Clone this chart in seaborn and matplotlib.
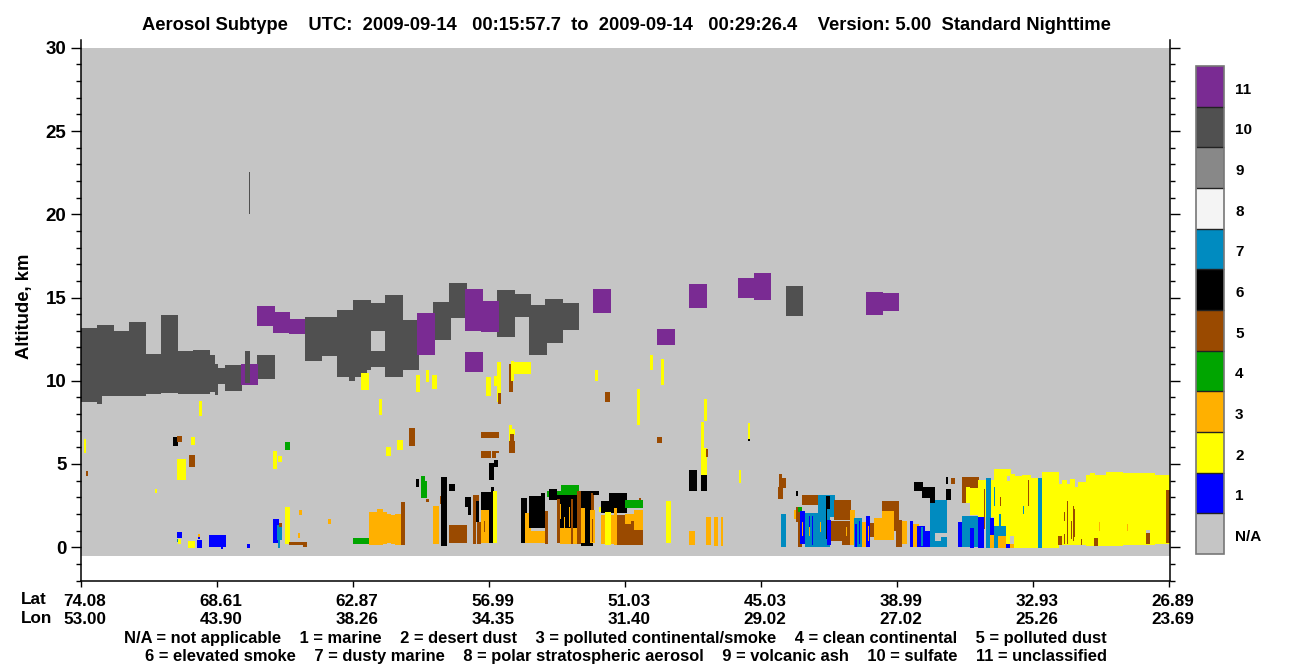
import matplotlib
matplotlib.use("Agg")
import matplotlib.pyplot as plt
import numpy as np
import pandas as pd
import seaborn as sns
from matplotlib.colors import ListedColormap
from matplotlib.ticker import FixedLocator
from matplotlib.transforms import ScaledTranslation

NA, MARINE, DESERT, POLLUTED, CLEAN, P_DUST, SMOKE, D_MARINE, PSA, ASH, SULFATE, UNCLASS = range(12)

SUBTYPE_COLORS = ["#C5C5C5", "#0000FF", "#FFFF00", "#FFB000", "#00A500", "#9A4A00",
                  "#000000", "#008BC0", "#F4F4F4", "#888888", "#505050", "#7A2B93"]
SUBTYPE_LABELS = ["N/A", "1", "2", "3", "4", "5", "6", "7", "8", "9", "10", "11"]

LAT_LABELS = ["74.08", "68.61", "62.87", "56.99", "51.03", "45.03", "38.99", "32.93", "26.89"]
LON_LABELS = ["53.00", "43.90", "38.26", "34.35", "31.40", "29.02", "27.02", "25.26", "23.69"]

N_PROFILES = 1089
ROW_KM = 0.06
GROUND_KM = -0.5
TOP_KM = 30.0

# every block: subtype, first profile, last profile, bottom km, top km (later blocks overpaint)
sulfate_layer = [
    (SULFATE, 0, 16, 8.8, 13.2), (SULFATE, 16, 33, 9.15, 13.4), (SULFATE, 16, 21, 8.7, 9.2),
    (SULFATE, 33, 48, 9.15, 13.05), (SULFATE, 48, 65, 9.15, 13.6), (SULFATE, 65, 80, 9.27, 11.65),
    (SULFATE, 80, 97, 9.33, 14.0), (SULFATE, 97, 112, 9.27, 11.85), (SULFATE, 112, 129, 9.27, 11.9),
    (SULFATE, 129, 134, 9.4, 11.6), (SULFATE, 134, 137, 9.2, 11.06), (SULFATE, 137, 144, 9.87, 10.8),
    (SULFATE, 144, 161, 9.45, 11.0), (SULFATE, 176, 194, 10.17, 11.6), (SULFATE, 224, 241, 11.24, 13.87),
    (SULFATE, 241, 256, 11.54, 13.87), (SULFATE, 256, 272, 10.29, 14.3), (SULFATE, 268, 274, 10.05, 10.4),
    (SULFATE, 272, 286, 10.29, 14.9), (SULFATE, 286, 290, 10.7, 14.9), (SULFATE, 290, 304, 13.04, 14.7),
    (SULFATE, 290, 304, 10.9, 11.85), (SULFATE, 304, 322, 10.29, 15.2), (SULFATE, 322, 338, 10.7, 13.7),
    (SULFATE, 352, 370, 12.5, 14.77), (SULFATE, 368, 386, 13.8, 15.9), (SULFATE, 416, 434, 12.68, 15.5),
    (SULFATE, 434, 450, 13.87, 15.25), (SULFATE, 448, 466, 11.6, 14.6), (SULFATE, 464, 482, 12.3, 14.95),
    (SULFATE, 482, 498, 13.1, 14.7), (SULFATE, 705, 722, 13.93, 15.73),
]

unclassified_layer = [
    (UNCLASS, 160, 177, 9.8, 11.06), (SULFATE, 164, 169, 9.93, 11.85), (SULFATE, 168, 169, 20.0, 22.55),
    (UNCLASS, 176, 194, 13.34, 14.53), (UNCLASS, 192, 209, 12.92, 14.17), (UNCLASS, 208, 224, 12.86, 13.76),
    (UNCLASS, 336, 354, 11.6, 14.1), (UNCLASS, 384, 402, 13.04, 15.55), (UNCLASS, 400, 418, 12.98, 14.83),
    (UNCLASS, 384, 402, 10.6, 11.8), (UNCLASS, 512, 530, 14.1, 15.55), (UNCLASS, 576, 594, 12.2, 13.16),
    (UNCLASS, 608, 626, 14.4, 15.85), (UNCLASS, 657, 673, 15.0, 16.2), (UNCLASS, 673, 690, 14.9, 16.5),
    (UNCLASS, 785, 802, 13.99, 15.37), (UNCLASS, 802, 818, 14.23, 15.31),
]

upper_features = [
    (DESERT, 3, 5, 5.74, 6.58), (P_DUST, 5, 7, 4.37, 4.66), (DESERT, 118, 121, 7.95, 8.85),
    (DESERT, 110, 114, 6.22, 6.7), (SMOKE, 92, 97, 6.16, 6.7), (P_DUST, 96, 101, 6.4, 6.76),
    (DESERT, 96, 105, 4.13, 5.38), (P_DUST, 108, 114, 4.9, 5.62), (DESERT, 192, 196, 4.78, 5.86),
    (DESERT, 197, 201, 5.2, 5.56), (CLEAN, 204, 209, 5.92, 6.4), (DESERT, 74, 76, 3.35, 3.6),
    (DESERT, 280, 288, 9.5, 10.5), (DESERT, 298, 301, 8.0, 9.0), (DESERT, 335, 339, 9.4, 10.4),
    (DESERT, 345, 348, 10.0, 10.7), (DESERT, 351, 356, 9.57, 10.4), (P_DUST, 328, 334, 6.16, 7.24),
    (DESERT, 316, 322, 5.92, 6.5), (DESERT, 305, 310, 5.56, 6.1), (DESERT, 405, 410, 9.15, 10.3),
    (DESERT, 413, 420, 9.75, 10.35), (DESERT, 416, 420, 8.8, 11.2), (P_DUST, 417, 420, 8.67, 9.33),
    (P_DUST, 428, 432, 9.4, 11.06), (DESERT, 430, 450, 10.47, 11.2), (DESERT, 430, 433, 10.05, 11.24),
    (DESERT, 514, 517, 10.05, 10.7), (P_DUST, 524, 529, 8.8, 9.4), (DESERT, 556, 559, 7.4, 9.57),
    (P_DUST, 576, 581, 6.34, 6.7), (DESERT, 569, 572, 10.7, 11.6), (DESERT, 580, 583, 9.8, 11.36),
    (DESERT, 623, 626, 7.66, 8.97), (DESERT, 620, 623, 4.43, 7.6), (DESERT, 620, 626, 4.43, 6.04),
    (P_DUST, 625, 627, 5.5, 5.98), (DESERT, 667, 669, 6.58, 7.54), (SMOKE, 667, 669, 6.46, 6.58),
    (P_DUST, 400, 418, 6.64, 7.0), (P_DUST, 400, 410, 5.44, 5.86), (P_DUST, 411, 415, 5.44, 5.86),
    (P_DUST, 411, 418, 5.74, 5.86), (DESERT, 428, 431, 6.16, 7.4), (DESERT, 431, 434, 6.82, 7.18),
    (P_DUST, 429, 433, 5.74, 6.88), (P_DUST, 428, 434, 5.74, 6.46), (SMOKE, 408, 413, 4.13, 5.14),
    (SMOKE, 413, 417, 4.9, 5.3),
]

lower_west = [
    (MARINE, 96, 101, 0.66, 1.0), (D_MARINE, 96, 97, 0.42, 0.6), (DESERT, 97, 100, 0.3, 0.6),
    (DESERT, 107, 114, 0.06, 0.48), (POLLUTED, 117, 119, 0.72, 0.9), (MARINE, 117, 119, 0.6, 0.72),
    (MARINE, 116, 121, 0.06, 0.54), (MARINE, 128, 145, 0.12, 0.84), (MARINE, 140, 142, 0.0, 0.2),
    (MARINE, 166, 169, 0.06, 0.3), (MARINE, 192, 198, 0.36, 1.8), (D_MARINE, 196, 201, 0.54, 1.44),
    (D_MARINE, 197, 199, 0.06, 0.54), (P_DUST, 198, 201, 1.32, 1.55), (DESERT, 204, 209, 0.3, 2.5),
    (POLLUTED, 218, 221, 2.03, 2.33), (POLLUTED, 217, 219, 0.66, 0.96), (POLLUTED, 247, 250, 1.5, 1.8),
    (P_DUST, 208, 226, 0.24, 0.42), (P_DUST, 222, 226, 0.12, 0.42), (CLEAN, 272, 288, 0.3, 0.66),
    (POLLUTED, 288, 296, 0.24, 2.2), (POLLUTED, 296, 302, 0.24, 2.4), (POLLUTED, 302, 306, 0.3, 2.2),
    (POLLUTED, 306, 310, 0.36, 2.1), (POLLUTED, 310, 314, 0.3, 2.03), (POLLUTED, 314, 320, 0.24, 2.1),
    (P_DUST, 320, 324, 0.24, 2.8), (SMOKE, 335, 338, 3.7, 4.2), (CLEAN, 340, 344, 3.05, 4.37),
    (CLEAN, 344, 346, 3.05, 4.05), (P_DUST, 345, 348, 2.8, 3.0),
]

lower_central = [
    (POLLUTED, 352, 358, 0.3, 2.57), (P_DUST, 359, 361, 2.7, 3.17), (SMOKE, 360, 366, 0.18, 4.3),
    (SMOKE, 368, 374, 3.47, 3.9), (P_DUST, 368, 386, 0.36, 1.44), (SMOKE, 384, 390, 2.5, 3.1),
    (SMOKE, 387, 390, 2.03, 2.5), (P_DUST, 392, 398, 2.87, 3.23), (P_DUST, 392, 395, 0.3, 2.87),
    (SMOKE, 395, 398, 1.6, 2.87), (P_DUST, 396, 400, 0.3, 1.6), (SMOKE, 400, 412, 2.33, 3.4),
    (POLLUTED, 400, 408, 0.36, 2.33), (P_DUST, 403, 404, 1.0, 1.7), (SMOKE, 408, 412, 0.36, 2.33),
    (SMOKE, 410, 413, 3.4, 3.7), (DESERT, 412, 416, 0.36, 3.47),
    (SMOKE, 440, 446, 0.36, 3.05), (POLLUTED, 444, 450, 0.36, 2.15), (SMOKE, 448, 464, 1.26, 3.17),
    (POLLUTED, 450, 464, 0.36, 1.08), (SMOKE, 460, 464, 2.33, 3.35), (P_DUST, 464, 467, 0.3, 2.27),
    (CLEAN, 466, 468, 3.1, 3.5), (SMOKE, 468, 476, 2.93, 3.6), (CLEAN, 476, 480, 3.23, 3.5),
    (CLEAN, 480, 498, 3.23, 3.83), (SMOKE, 476, 496, 1.26, 3.23), (P_DUST, 476, 479, 0.36, 3.0),
    (POLLUTED, 479, 496, 0.3, 1.26), (POLLUTED, 479, 480, 1.8, 2.7), (POLLUTED, 483, 484, 1.2, 1.9),
    (POLLUTED, 488, 489, 1.3, 2.5), (P_DUST, 490, 492, 0.3, 3.0), (P_DUST, 496, 500, 0.3, 3.5),
    (SMOKE, 500, 512, 0.2, 3.5), (POLLUTED, 500, 504, 0.36, 2.45), (POLLUTED, 509, 514, 0.36, 2.33),
    (P_DUST, 510, 513, 2.33, 3.35), (P_DUST, 511, 512, 0.4, 1.8), (SMOKE, 512, 518, 3.23, 3.5),
    (DESERT, 518, 520, 2.2, 2.5), (SMOKE, 520, 546, 2.15, 2.87), (SMOKE, 528, 546, 2.15, 3.35),
    (POLLUTED, 520, 524, 0.3, 2.03), (DESERT, 524, 530, 0.24, 2.2), (POLLUTED, 530, 533, 0.3, 2.03),
    (POLLUTED, 533, 536, 0.24, 2.45), (P_DUST, 536, 562, 0.24, 2.03), (POLLUTED, 544, 550, 1.5, 2.1),
    (POLLUTED, 550, 553, 1.7, 2.1), (POLLUTED, 553, 562, 1.14, 2.33), (CLEAN, 544, 562, 2.45, 2.93),
    (P_DUST, 558, 560, 2.93, 3.05), (DESERT, 585, 590, 0.36, 2.87), (POLLUTED, 608, 614, 0.24, 1.08),
    (POLLUTED, 625, 630, 0.24, 1.9), (POLLUTED, 633, 637, 0.18, 1.9), (POLLUTED, 640, 642, 0.18, 1.9),
    (SMOKE, 608, 616, 3.47, 4.72), (SMOKE, 620, 626, 3.47, 4.43), (DESERT, 658, 660, 3.95, 4.72),
]

yellow_plume = [
    (P_DUST, 881, 898, 3.65, 4.3), (P_DUST, 881, 885, 2.75, 3.65), (DESERT, 885, 889, 2.75, 3.7),
    (DESERT, 889, 897, 2.03, 3.65), (DESERT, 897, 913, 1.9, 4.13), (DESERT, 913, 930, 0.06, 4.78),
    (DESERT, 930, 934, 0.06, 4.49), (DESERT, 934, 941, 0.06, 4.37), (DESERT, 941, 950, 0.06, 4.43),
    (DESERT, 950, 957, 0.06, 4.25), (DESERT, 957, 961, 0.06, 4.25), (DESERT, 961, 978, 0.06, 4.6),
    (DESERT, 978, 981, 0.24, 3.9), (DESERT, 981, 986, 0.24, 4.13), (DESERT, 986, 989, 0.24, 3.9),
    (DESERT, 989, 994, 0.24, 4.19), (DESERT, 994, 997, 0.24, 3.7), (DESERT, 997, 1005, 0.24, 4.0),
    (DESERT, 1005, 1009, 0.2, 4.43), (DESERT, 1009, 1014, 0.18, 4.55), (DESERT, 1014, 1025, 0.2, 4.43),
    (DESERT, 1025, 1042, 0.18, 4.6), (DESERT, 1042, 1074, 0.24, 4.55), (DESERT, 1074, 1089, 0.3, 4.43),
    (NA, 926, 929, 4.1, 4.35),
]

lower_east = [
    (P_DUST, 697, 702, 3.0, 3.7), (P_DUST, 698, 705, 3.65, 4.25), (P_DUST, 698, 701, 4.25, 4.5),
    (D_MARINE, 700, 705, 0.12, 2.09), (SMOKE, 715, 717, 3.17, 3.47), (P_DUST, 721, 737, 2.63, 3.23),
    (D_MARINE, 737, 754, 1.9, 3.23), (SMOKE, 745, 749, 2.4, 3.17), (P_DUST, 753, 770, 1.73, 2.93),
    (POLLUTED, 713, 715, 1.8, 2.33), (P_DUST, 715, 717, 1.6, 2.5), (CLEAN, 717, 721, 2.2, 2.5),
    (P_DUST, 717, 721, 0.12, 2.2), (MARINE, 719, 724, 0.3, 2.3), (POLLUTED, 721, 722, 0.8, 1.6),
    (D_MARINE, 724, 749, 0.12, 2.15), (MARINE, 728, 729, 0.8, 2.0), (MARINE, 731, 732, 0.25, 2.0),
    (POLLUTED, 739, 740, 1.0, 1.6), (POLLUTED, 728, 729, 0.8, 1.3), (SMOKE, 745, 746, 0.6, 2.4),
    (MARINE, 746, 750, 0.24, 1.73), (P_DUST, 750, 769, 0.24, 1.67), (POLLUTED, 765, 766, 0.8, 1.3),
    (NA, 750, 761, 0.1, 0.5), (POLLUTED, 769, 774, 0.24, 2.33), (D_MARINE, 773, 781, 0.12, 1.85),
    (MARINE, 774, 776, 0.12, 1.5), (MARINE, 778, 779, 0.3, 1.7), (POLLUTED, 781, 785, 0.12, 1.6),
    (MARINE, 785, 789, 0.12, 1.97), (POLLUTED, 787, 788, 0.5, 1.4), (P_DUST, 789, 793, 0.72, 1.55),
    (POLLUTED, 793, 801, 0.54, 1.85), (POLLUTED, 801, 813, 0.54, 2.27), (P_DUST, 801, 818, 2.27, 2.87),
    (P_DUST, 813, 818, 1.1, 2.27), (P_DUST, 815, 821, 0.12, 1.73), (POLLUTED, 821, 826, 0.3, 1.7),
    (MARINE, 829, 832, 0.12, 1.67), (POLLUTED, 832, 838, 0.12, 1.5), (MARINE, 836, 844, 0.12, 1.38),
    (D_MARINE, 840, 842, 0.2, 1.3), (MARINE, 844, 849, 0.12, 1.1), (D_MARINE, 849, 866, 0.96, 2.93),
    (D_MARINE, 849, 854, 0.12, 0.96), (D_MARINE, 860, 866, 0.12, 0.72), (D_MARINE, 854, 860, 0.12, 0.48),
    (SMOKE, 833, 842, 3.47, 4.0), (SMOKE, 841, 854, 3.05, 3.7), (SMOKE, 849, 854, 2.75, 3.05),
    (SMOKE, 865, 867, 3.9, 4.3), (SMOKE, 865, 870, 2.93, 3.6), (P_DUST, 870, 874, 3.9, 4.25),
    (MARINE, 877, 881, 0.12, 1.6), (D_MARINE, 881, 897, 0.12, 1.97), (MARINE, 889, 893, 0.06, 1.26),
    (MARINE, 897, 903, 0.06, 1.9), (P_DUST, 903, 904, 1.2, 3.6), (D_MARINE, 905, 910, 0.06, 4.25),
    (MARINE, 909, 913, 0.84, 1.85), (POLLUTED, 909, 913, 0.06, 0.84), (D_MARINE, 913, 925, 0.78, 1.38),
    (D_MARINE, 913, 917, 0.06, 0.78), (POLLUTED, 917, 925, 0.06, 0.78), (D_MARINE, 913, 914, 2.6, 3.7),
    (D_MARINE, 918, 920, 1.38, 2.1), (MARINE, 925, 929, 0.06, 0.33), (POLLUTED, 929, 933, 0.06, 0.33),
    (NA, 929, 933, 0.33, 0.8), (D_MARINE, 957, 961, 0.06, 4.25), (D_MARINE, 942, 943, 2.1, 2.6),
    (P_DUST, 919, 920, 2.6, 3.1), (P_DUST, 947, 948, 2.6, 4.15), (P_DUST, 977, 981, 0.24, 0.78),
    (P_DUST, 983, 984, 1.7, 2.2), (P_DUST, 983, 984, 0.3, 0.9), (P_DUST, 986, 987, 0.3, 2.9),
    (P_DUST, 990, 991, 0.6, 1.7), (P_DUST, 992, 993, 0.5, 2.6), (P_DUST, 993, 994, 0.7, 2.4),
    (P_DUST, 1000, 1001, 0.24, 0.6), (P_DUST, 1013, 1017, 0.18, 0.66), (POLLUTED, 1018, 1019, 1.1, 1.6),
    (POLLUTED, 1046, 1047, 1.1, 1.5), (P_DUST, 1065, 1069, 0.3, 0.96), (NA, 1065, 1069, 0.96, 1.15),
    (P_DUST, 1085, 1089, 0.36, 3.53),
]


def alt_row(km):
    return (km - GROUND_KM) / ROW_KM


# tick 0 sits 1.5 px under where the blocks were measured from, hence the small rescale
def true_km(km):
    return km * 1.0042 - 0.09


n_rows = int(round(alt_row(TOP_KM)))
grid = np.zeros((n_rows, N_PROFILES), dtype=int)
for blocks in [sulfate_layer, unclassified_layer, upper_features, lower_west, lower_central,
               yellow_plume, lower_east]:
    for code, start, stop, bottom, top in blocks:
        r0 = int(round(alt_row(true_km(bottom))))
        r1 = int(round(alt_row(true_km(top))))
        grid[r0:r1, start:stop] = code
subtype_df = pd.DataFrame(grid)

plt.rcParams["font.family"] = ["Liberation Sans", "DejaVu Sans"]
plt.rcParams["font.weight"] = "bold"

W, H = 1300, 667
fig = plt.figure(figsize=(W / 100, H / 100), dpi=100)
ax = fig.add_axes([81 / W, 1 - 580.5 / H, 1089 / W, 540.5 / H])
cax = fig.add_axes([1196 / W, 1 - 554 / H, 28 / W, 488 / H])

sns.heatmap(
    subtype_df,
    ax=ax,
    cbar_ax=cax,
    cmap=ListedColormap(SUBTYPE_COLORS),
    vmin=-0.5,
    vmax=11.5,
    xticklabels=False,
    yticklabels=False,
    cbar_kws={"ticks": list(range(12)), "drawedges": True},
)

ax.set_ylim(alt_row(-2), alt_row(30.47))
ax.set_xlim(0, N_PROFILES)
ax.patch.set_facecolor("white")
for side in ["left", "right", "bottom"]:
    ax.spines[side].set_visible(True)
    ax.spines[side].set_linewidth(1.1)
ax.spines["top"].set_visible(False)

major_km = list(range(0, 31, 5))
minor_km = [k for k in range(-2, 31) if k % 5 != 0]
ax.set_yticks([alt_row(k) for k in major_km])
ax.set_yticklabels([str(k) for k in major_km], fontsize=13.5, fontweight="bold")
ax.yaxis.set_minor_locator(FixedLocator([alt_row(k) for k in minor_km]))
ax.tick_params(axis="y", which="major", left=True, right=True, direction="out",
               length=7.5, width=1, pad=3, labelrotation=0)
ax.tick_params(axis="y", which="minor", left=True, right=True, direction="out", length=3.8, width=1)

ax.set_xticks([136 * i for i in range(9)])
ax.set_xticklabels([f"{a}\n{b}" for a, b in zip(LAT_LABELS, LON_LABELS)], fontsize=12.3,
                   fontweight="bold", linespacing=1.2)
ax.tick_params(axis="x", bottom=True, direction="out", length=4.5, width=1, pad=5.5, labelrotation=0)
# the lat/lon labels sit a few pixels right of their ticks in the original
label_shift = ScaledTranslation(4 / 100, 0, fig.dpi_scale_trans)
for label in ax.get_xticklabels():
    label.set_transform(label.get_transform() + label_shift)

ax.set_xlabel("")
ax.set_ylabel("")
fig.text(24 / W, 1 - 306 / H, "Altitude, km", rotation=90, ha="center", va="center",
         fontsize=13.3, fontweight="bold")
fig.text(21 / W, 1 - 600 / H, "Lat", ha="left", va="center", fontsize=12.3, fontweight="bold")
fig.text(21 / W, 1 - 618.5 / H, "Lon", ha="left", va="center", fontsize=12.3, fontweight="bold")

fig.text(626 / W, 1 - 25 / H,
         "Aerosol Subtype    UTC:  2009-09-14   00:15:57.7  to  2009-09-14   00:29:26.4"
         "    Version: 5.00  Standard Nighttime",
         ha="center", va="center", fontsize=13.2, fontweight="bold")
fig.text(615.5 / W, 1 - 638 / H,
         "N/A = not applicable    1 = marine    2 = desert dust    3 = polluted continental/smoke"
         "    4 = clean continental    5 = polluted dust",
         ha="center", va="center", fontsize=11.85, fontweight="bold")
fig.text(626 / W, 1 - 657 / H,
         "6 = elevated smoke    7 = dusty marine    8 = polar stratospheric aerosol"
         "    9 = volcanic ash    10 = sulfate    11 = unclassified",
         ha="center", va="center", fontsize=11.85, fontweight="bold")

cbar = ax.collections[0].colorbar
cbar.set_ticklabels(SUBTYPE_LABELS, fontsize=11, fontweight="bold")
cbar.ax.tick_params(length=0, pad=8)
cbar.outline.set_linewidth(1.2)
cbar.outline.set_edgecolor("#777777")
cbar.dividers.set_color("#222222")
cbar.dividers.set_linewidth(1)
cbar_shift = ScaledTranslation(0, -2 / 100, fig.dpi_scale_trans)
for label in cbar.ax.get_yticklabels():
    label.set_transform(label.get_transform() + cbar_shift)

plt.savefig("out.png", dpi=100)
plt.close()
